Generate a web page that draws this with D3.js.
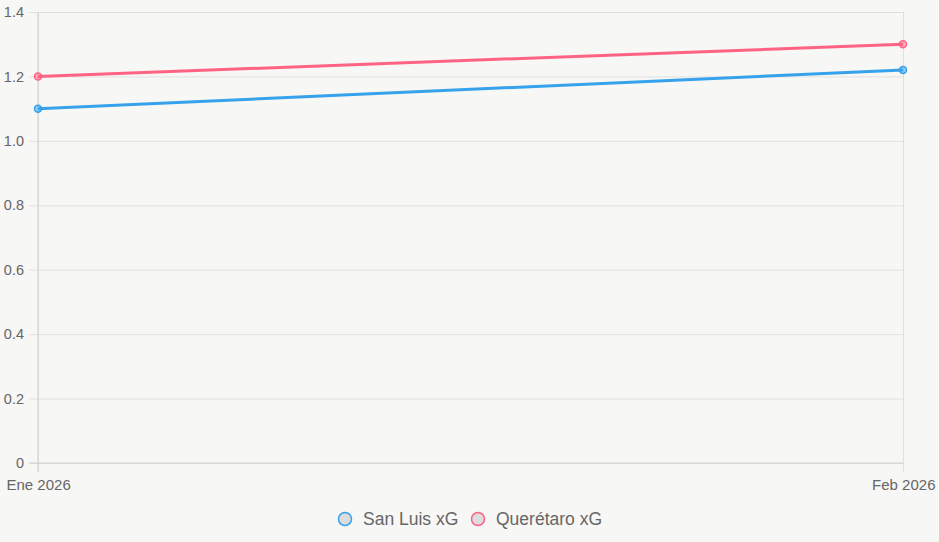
<!DOCTYPE html>
<html>
<head>
<meta charset="utf-8">
<script src="https://cdn.jsdelivr.net/npm/d3@7"></script>
<style>
  body { margin: 0; background: #f7f7f5; }
  svg { display: block; font-family: "Liberation Sans", Arial, sans-serif; }
</style>
</head>
<body>
<div id="chart"></div>
<script>
// data
const months = ["Ene 2026", "Feb 2026"];
const sanLuis = [1.1, 1.22];
const queretaro = [1.2, 1.3];
const yTicks = [0, 0.2, 0.4, 0.6, 0.8, 1.0, 1.2, 1.4];

const series = [
    {name: "San Luis xG", values: sanLuis, color: "#36a2eb", fill: "rgba(54,162,235,0.5)"},
    {name: "Querétaro xG", values: queretaro, color: "#ff6384", fill: "rgba(255,99,132,0.5)"}
];

const width = 939, height = 542;
const margin = {top: 12, right: 36, bottom: 79, left: 38};

const svg = d3.select("#chart").append("svg")
    .attr("width", width)
    .attr("height", height);

const x = d3.scalePoint()
    .domain(months)
    .range([margin.left, width - margin.right]);

const y = d3.scaleLinear()
    .domain([0, 1.4])
    .range([height - margin.bottom, margin.top]);

// horizontal grid + y labels
const yAxis = svg.append("g")
    .attr("transform", `translate(${margin.left},0)`)
    .call(d3.axisLeft(y).tickValues(yTicks)
        .tickSize(-(width - margin.left - margin.right))
        .tickFormat(d => d === 0 ? "0" : d3.format(".1f")(d)));
yAxis.select(".domain").remove();
yAxis.selectAll(".tick line")
    .attr("stroke", "#e0e0e0")
    .attr("x1", -9);
yAxis.selectAll(".tick text")
    .attr("x", -14)
    .attr("fill", "#666")
    .style("font-size", "14.5px");

// vertical grid + x labels
const xAxis = svg.append("g")
    .attr("transform", `translate(0,${height - margin.bottom})`)
    .call(d3.axisBottom(x).tickSize(-(height - margin.top - margin.bottom)));
xAxis.select(".domain").remove();
xAxis.selectAll(".tick line")
    .attr("stroke", "#e0e0e0")
    .attr("y1", 9);
xAxis.selectAll(".tick text")
    .attr("y", 16)
    .attr("fill", "#666")
    .style("font-size", "15px")
    .attr("text-anchor", (d, i) => i === 0 ? "start" : "end")
    .attr("dx", (d, i) => i === 0 ? -32 : 32);

// axis lines
svg.append("line")
    .attr("x1", margin.left).attr("x2", margin.left)
    .attr("y1", margin.top).attr("y2", height - margin.bottom + 9)
    .attr("stroke", "#cfcfcf");
svg.append("line")
    .attr("x1", margin.left - 9).attr("x2", width - margin.right)
    .attr("y1", y(0)).attr("y2", y(0))
    .attr("stroke", "#cfcfcf");

// lines
const line = d3.line()
    .x((d, i) => x(months[i]))
    .y(d => y(d));

series.forEach(s => {
    svg.append("path")
        .datum(s.values)
        .attr("fill", "none")
        .attr("stroke", s.color)
        .attr("stroke-width", 3)
        .attr("d", line);

    svg.selectAll(null)
        .data(s.values)
        .enter()
        .append("circle")
        .attr("cx", (d, i) => x(months[i]))
        .attr("cy", d => y(d))
        .attr("r", 3.5)
        .attr("fill", s.fill)
        .attr("stroke", s.color)
        .attr("stroke-width", 1.5);
});

// legend
const legendX = [345, 478];
const legend = svg.append("g");
series.forEach((s, i) => {
    const g = legend.append("g").attr("transform", `translate(${legendX[i]},519)`);
    g.append("circle")
        .attr("r", 6.5)
        .attr("fill", "#dcdcdc")
        .attr("stroke", s.color)
        .attr("stroke-width", 1.5);
    g.append("text")
        .attr("x", 18)
        .attr("dy", "0.35em")
        .attr("fill", "#666")
        .style("font-size", "17.5px")
        .text(s.name);
});
</script>
</body>
</html>
